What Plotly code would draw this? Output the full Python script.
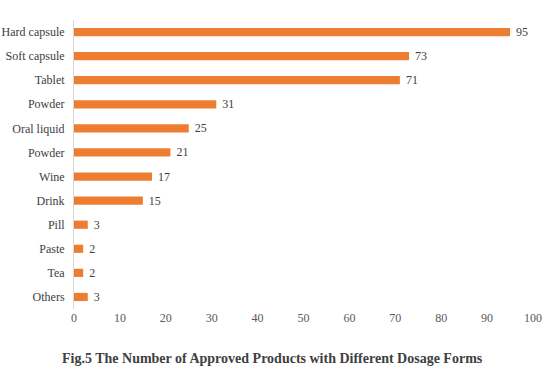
import plotly.graph_objects as go

categories = ["Hard capsule", "Soft capsule", "Tablet", "Powder", "Oral liquid", "Powder",
              "Wine", "Drink", "Pill", "Paste", "Tea", "Others"]
values = [95, 73, 71, 31, 25, 21, 17, 15, 3, 2, 2, 3]
x_ticks = list(range(0, 101, 10))
title = "Fig.5 The Number of Approved Products with Different Dosage Forms"

font_family = "Liberation Serif, Times New Roman, serif"

L, R, T, B = 74, 15, 20, 60
W, H = 548, 369
pw, ph = W - L - R, H - T - B

positions = list(range(len(categories)))

fig = go.Figure(go.Bar(
    y=positions, x=values, orientation="h",
    marker=dict(color="#ED7D31", line=dict(width=0)),
    width=0.34,
    text=[" " + str(v) for v in values], textposition="outside",
    constraintext="none",
    textfont=dict(family=font_family, size=12, color="#404040"),
    cliponaxis=False,
    hoverinfo="skip",
))

fig.update_layout(
    width=W, height=H,
    margin=dict(l=L, r=R, t=T, b=B),
    plot_bgcolor="white", paper_bgcolor="white",
    showlegend=False,
    font=dict(family=font_family, size=12, color="#595959"),
    xaxis=dict(range=[0, 100], tickvals=x_ticks, showgrid=False, zeroline=False,
               showline=False, ticks="", automargin=False,
               tickfont=dict(size=12, color="#595959")),
    yaxis=dict(range=[len(categories) - 0.5, -0.5], tickvals=positions, ticktext=categories,
               showline=True, linecolor="#d9d9d9", linewidth=1, zeroline=False,
               ticks="", ticklabelstandoff=6, showgrid=False, automargin=False,
               tickfont=dict(size=12, color="#404040")),
)

fig.add_annotation(text="<b>" + title + "</b>", xref="paper", yref="paper",
                   x=(272 - L) / pw, xanchor="center",
                   y=-(358 - (T + ph)) / ph, yanchor="middle", showarrow=False,
                   font=dict(size=14, color="#404040", family=font_family))

fig.write_html("out.html", config={"displayModeBar": False},
               post_script="document.body.style.margin='0';document.body.style.overflow='hidden';")
